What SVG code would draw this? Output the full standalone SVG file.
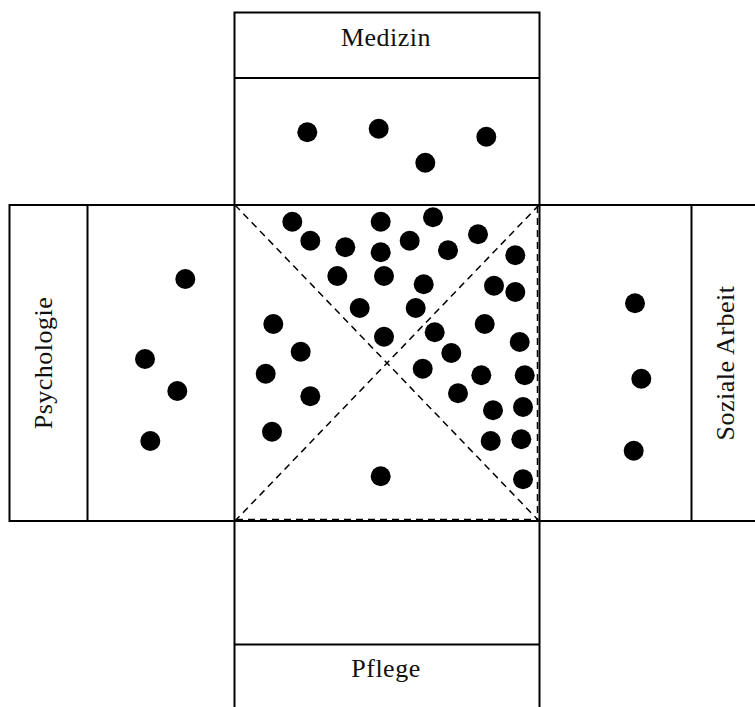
<svg xmlns="http://www.w3.org/2000/svg" width="755" height="707" viewBox="0 0 755 707">
<style>
.box{fill:none;stroke:#000;stroke-width:2}
.dash{fill:none;stroke:#000;stroke-width:1.5;stroke-dasharray:7,5}
.lbl{font-family:"Liberation Serif","Times New Roman",serif;font-size:26px;letter-spacing:0.5px;fill:#111;text-anchor:middle}
circle{fill:#000}
</style>
<rect width="755" height="707" fill="#fff"/>
<g id="frame">
<rect class="box" x="234.5" y="12.5" width="305" height="700"/>
<rect class="box" x="9.5" y="205" width="760" height="316"/>
<line class="box" x1="234.5" y1="78" x2="539.5" y2="78"/>
<line class="box" x1="234.5" y1="644.5" x2="539.5" y2="644.5"/>
<line class="box" x1="87.5" y1="205" x2="87.5" y2="521"/>
<line class="box" x1="691.5" y1="205" x2="691.5" y2="521"/>
</g>
<g id="connectors">
<line class="dash" x1="235" y1="205" x2="539" y2="521"/>
<line class="dash" x1="539" y1="205" x2="235" y2="521"/>
<line class="dash" x1="537.5" y1="206" x2="537.5" y2="520"/>
<line class="dash" x1="236" y1="519.5" x2="538" y2="519.5"/>
</g>
<g id="medizin">
<text class="lbl" x="386" y="46">Medizin</text>
<circle cx="307.3" cy="132.3" r="10"/>
<circle cx="378.7" cy="128.7" r="10"/>
<circle cx="486.3" cy="136.7" r="10"/>
<circle cx="425.3" cy="162.7" r="10"/>
</g>
<g id="psychologie">
<text class="lbl" transform="translate(51.5,363) rotate(-90)">Psychologie</text>
<circle cx="185.3" cy="279" r="10"/>
<circle cx="145" cy="359" r="10"/>
<circle cx="177.3" cy="391" r="10"/>
<circle cx="150.3" cy="441" r="10"/>
</g>
<g id="soziale-arbeit">
<text class="lbl" transform="translate(733.5,363) rotate(-90)">Soziale Arbeit</text>
<circle cx="635" cy="303.3" r="10"/>
<circle cx="641.3" cy="378.7" r="10"/>
<circle cx="633.7" cy="450.7" r="10"/>
</g>
<g id="pflege">
<text class="lbl" x="386" y="677">Pflege</text>
</g>
<g id="center">
<circle cx="292.3" cy="221.7" r="10"/>
<circle cx="380.7" cy="221.7" r="10"/>
<circle cx="433" cy="217.3" r="10"/>
<circle cx="310.3" cy="240.7" r="10"/>
<circle cx="345.3" cy="247.3" r="10"/>
<circle cx="380.7" cy="252.3" r="10"/>
<circle cx="409.7" cy="240.7" r="10"/>
<circle cx="448" cy="250.3" r="10"/>
<circle cx="478" cy="234.3" r="10"/>
<circle cx="515.3" cy="255.3" r="10"/>
<circle cx="337.3" cy="276" r="10"/>
<circle cx="384" cy="276" r="10"/>
<circle cx="423.7" cy="284.3" r="10"/>
<circle cx="494" cy="285.7" r="10"/>
<circle cx="515.3" cy="292" r="10"/>
<circle cx="359.7" cy="308" r="10"/>
<circle cx="415.7" cy="308" r="10"/>
<circle cx="273.3" cy="324" r="10"/>
<circle cx="384" cy="336.7" r="10"/>
<circle cx="434.7" cy="332.3" r="10"/>
<circle cx="484.7" cy="324" r="10"/>
<circle cx="519.7" cy="342" r="10"/>
<circle cx="300.7" cy="351.7" r="10"/>
<circle cx="451.3" cy="353" r="10"/>
<circle cx="265.7" cy="373.7" r="10"/>
<circle cx="422.7" cy="368.7" r="10"/>
<circle cx="481.3" cy="375.3" r="10"/>
<circle cx="524.7" cy="375.3" r="10"/>
<circle cx="310.3" cy="396.3" r="10"/>
<circle cx="458" cy="393.3" r="10"/>
<circle cx="493" cy="410.3" r="10"/>
<circle cx="523" cy="407" r="10"/>
<circle cx="272" cy="431.7" r="10"/>
<circle cx="490.7" cy="441" r="10"/>
<circle cx="521.3" cy="439.3" r="10"/>
<circle cx="380.7" cy="476.3" r="10"/>
<circle cx="523" cy="479.3" r="10"/>
</g>
</svg>
